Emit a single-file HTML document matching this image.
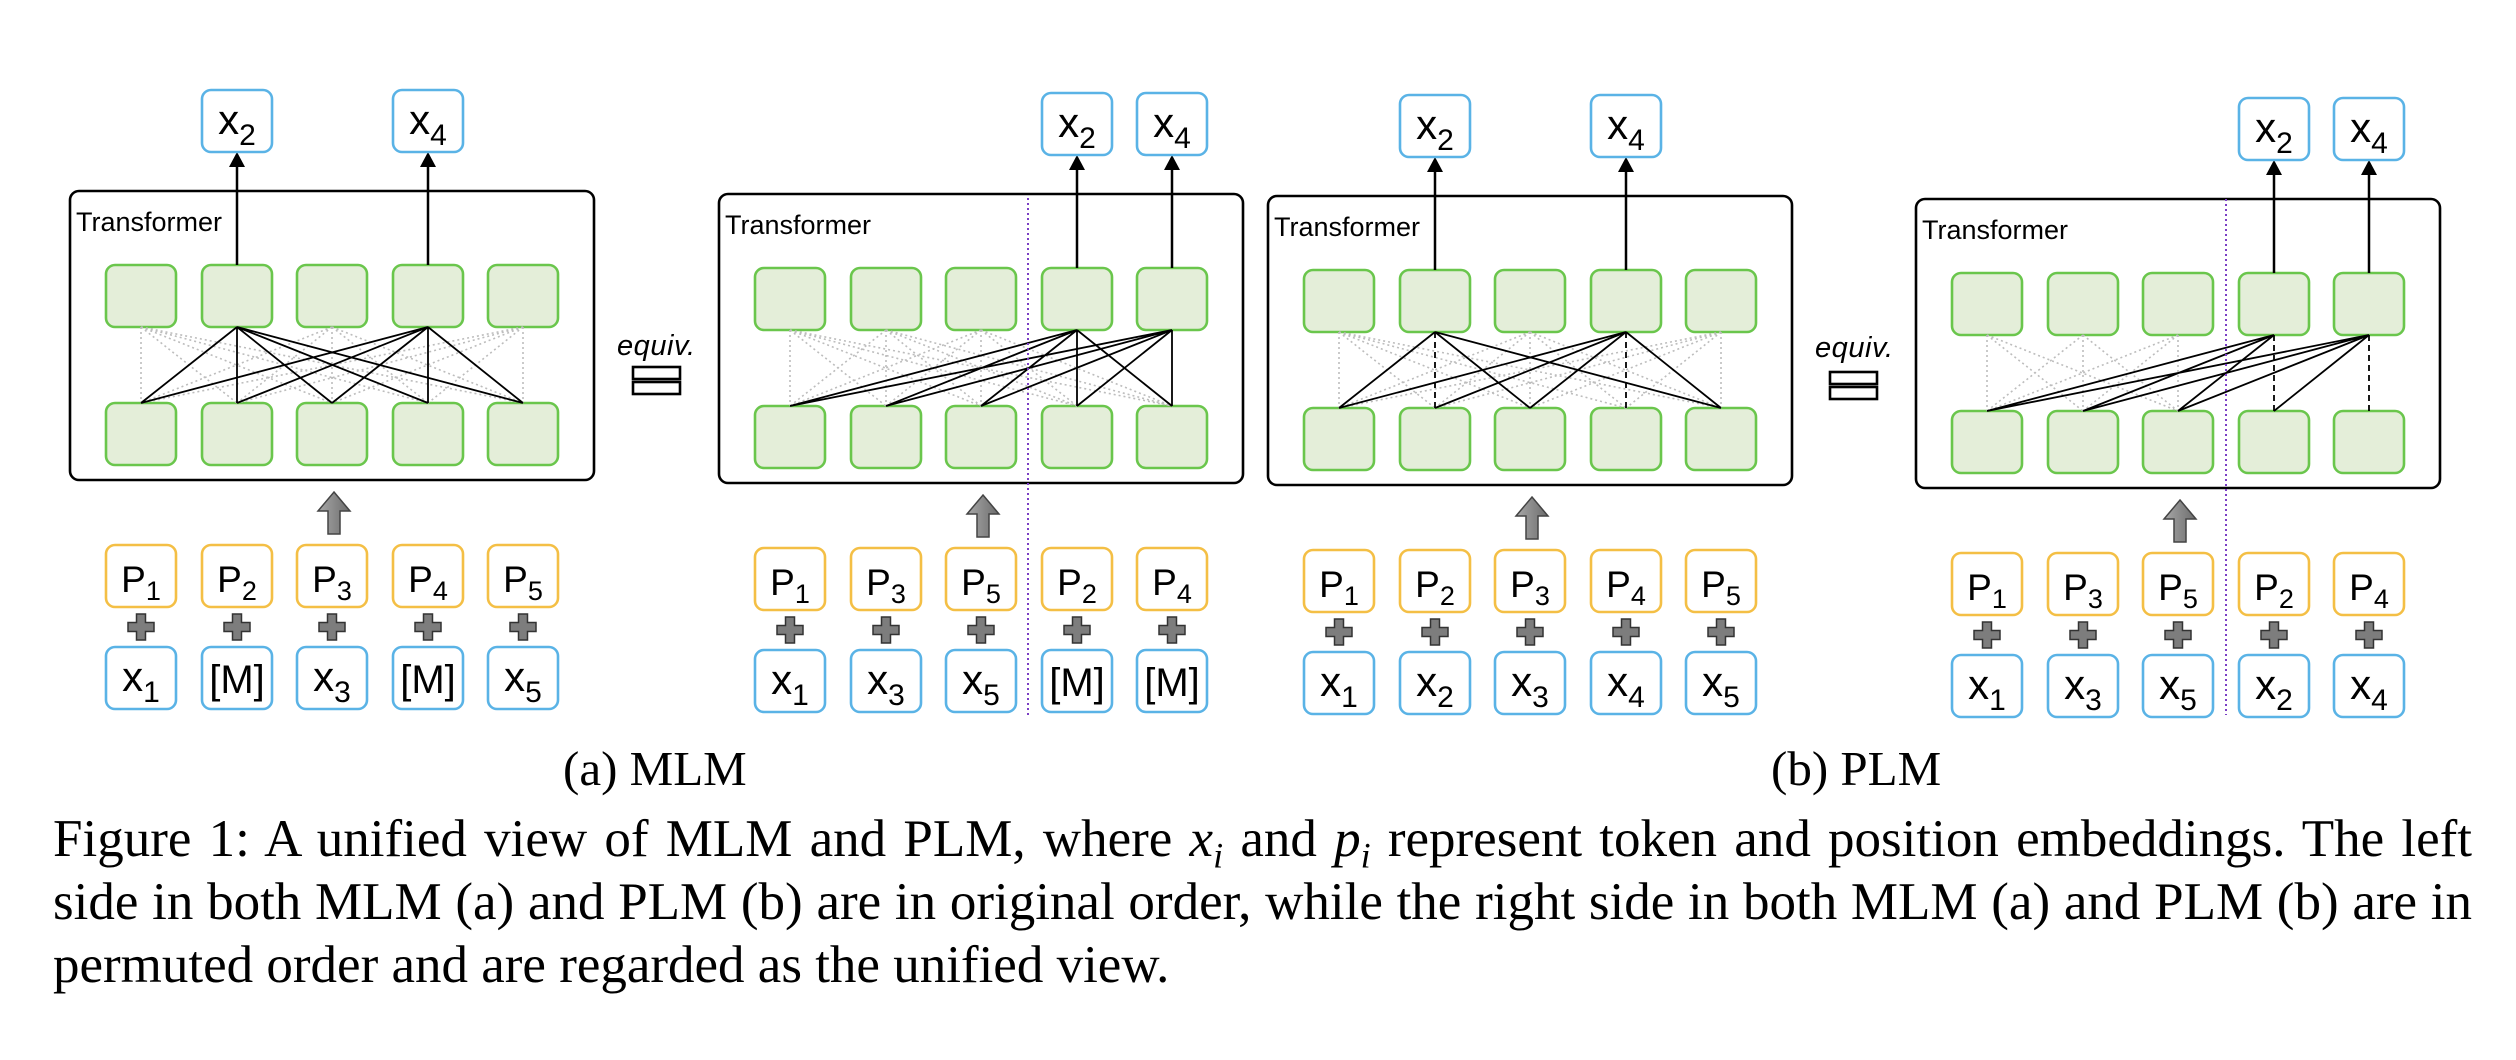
<!DOCTYPE html>
<html><head><meta charset="utf-8">
<style>
html,body{margin:0;padding:0;background:#fff;}
body{width:2516px;height:1060px;position:relative;overflow:hidden;}
svg{position:absolute;left:0;top:0;}
.t{font-family:"Liberation Sans",sans-serif;font-size:42px;fill:#000;text-anchor:middle;}
.s{font-size:30px;}
.p{font-family:"Liberation Sans",sans-serif;font-size:37px;fill:#000;text-anchor:middle;}
.ps{font-size:27px;}
.m{font-family:"Liberation Sans",sans-serif;font-size:40px;fill:#000;text-anchor:middle;}
.tr{font-family:"Liberation Sans",sans-serif;font-size:27px;fill:#000;}
.eq{font-family:"Liberation Sans",sans-serif;font-size:29px;font-style:italic;fill:#000;}
.cap{position:absolute;left:53px;width:2419px;font-family:"Liberation Serif",serif;font-size:53px;line-height:63px;white-space:nowrap;color:#000;}
.j{text-align:justify;text-align-last:justify;}
.sub{font-family:"Liberation Serif",serif;font-size:49px;position:absolute;white-space:nowrap;}
i{font-style:italic;}
</style></head><body>
<svg width="2516" height="1060" viewBox="0 0 2516 1060">
<defs>
<rect id="g" x="-35" y="0" width="70" height="62" rx="9" fill="#e4eed9" stroke="#6ac64c" stroke-width="2.6"/>
<rect id="b" x="-35" y="0" width="70" height="62" rx="9" fill="#fff" stroke="#5ab3e6" stroke-width="2.6"/>
<rect id="o" x="-35" y="0" width="70" height="62" rx="9" fill="#fff" stroke="#f4bf45" stroke-width="2.6"/>
<path id="plus" d="M-4.5,-13h9v8.5h8.5v9h-8.5v8.5h-9v-8.5h-8.5v-9h8.5z" fill="#7d7d7d" stroke="#333" stroke-width="1.5"/>
<linearGradient id="gr" x1="0" x2="1"><stop offset="0" stop-color="#a8a8a8"/><stop offset="1" stop-color="#6c6c6c"/></linearGradient>
<path id="up" d="M0,0 L16,19 L6,19 L6,42 L-6,42 L-6,19 L-16,19Z" fill="url(#gr)" stroke="#444" stroke-width="1.5"/>
<g id="frame">
<rect x="-35" y="101" width="524" height="289" rx="9" fill="#fff" stroke="#000" stroke-width="2.6"/>
<text x="-29" y="141" class="tr">Transformer</text>
<use href="#g" x="36" y="175"/><use href="#g" x="132" y="175"/><use href="#g" x="227" y="175"/><use href="#g" x="323" y="175"/><use href="#g" x="418" y="175"/>
<use href="#g" x="36" y="313"/><use href="#g" x="132" y="313"/><use href="#g" x="227" y="313"/><use href="#g" x="323" y="313"/><use href="#g" x="418" y="313"/>
<use href="#up" x="229" y="402"/>
<use href="#o" x="36" y="455"/><use href="#o" x="132" y="455"/><use href="#o" x="227" y="455"/><use href="#o" x="323" y="455"/><use href="#o" x="418" y="455"/>
<use href="#plus" x="36" y="537"/><use href="#plus" x="132" y="537"/><use href="#plus" x="227" y="537"/><use href="#plus" x="323" y="537"/><use href="#plus" x="418" y="537"/>
<use href="#b" x="36" y="557"/><use href="#b" x="132" y="557"/><use href="#b" x="227" y="557"/><use href="#b" x="323" y="557"/><use href="#b" x="418" y="557"/>
</g>
</defs>

<!-- Panel 1 -->
<g transform="translate(105,90)">
<use href="#frame"/>
<path d="M36 237L36 313M36 237L132 313M36 237L227 313M36 237L323 313M36 237L418 313M227 237L36 313M227 237L132 313M227 237L227 313M227 237L323 313M227 237L418 313M418 237L36 313M418 237L132 313M418 237L227 313M418 237L323 313M418 237L418 313" stroke="#bdbdbd" stroke-width="1.6" stroke-dasharray="2,3" fill="none"/>
<path d="M132 237L36 313M132 237L132 313M132 237L227 313M132 237L323 313M132 237L418 313M323 237L36 313M323 237L132 313M323 237L227 313M323 237L323 313M323 237L418 313" stroke="#000" stroke-width="1.8" fill="none"/>
<path d="M132 175V76M323 175V76" stroke="#000" stroke-width="2.5"/>
<polygon points="124,77 140,77 132,62" fill="#000"/><polygon points="315,77 331,77 323,62" fill="#000"/>
<use href="#b" x="132" y="0"/><use href="#b" x="323" y="0"/>
<text x="132" y="44" class="t">x<tspan class="s" dy="11">2</tspan></text>
<text x="323" y="44" class="t">x<tspan class="s" dy="11">4</tspan></text>
<text x="36" y="502" class="p">P<tspan class="ps" dy="8">1</tspan></text>
<text x="132" y="502" class="p">P<tspan class="ps" dy="8">2</tspan></text>
<text x="227" y="502" class="p">P<tspan class="ps" dy="8">3</tspan></text>
<text x="323" y="502" class="p">P<tspan class="ps" dy="8">4</tspan></text>
<text x="418" y="502" class="p">P<tspan class="ps" dy="8">5</tspan></text>
<text x="36" y="601" class="t">x<tspan class="s" dy="11">1</tspan></text>
<text x="132" y="603" class="m">[M]</text>
<text x="227" y="601" class="t">x<tspan class="s" dy="11">3</tspan></text>
<text x="323" y="603" class="m">[M]</text>
<text x="418" y="601" class="t">x<tspan class="s" dy="11">5</tspan></text>
</g>

<!-- equiv 1 -->
<text x="617" y="355" class="eq" textLength="78">equiv.</text>
<rect x="633" y="367" width="47" height="12" fill="#fff" stroke="#000" stroke-width="2.6"/>
<rect x="633" y="382" width="47" height="12" fill="#fff" stroke="#000" stroke-width="2.6"/>

<!-- Panel 2 -->
<g transform="translate(754,93)">
<use href="#frame"/>
<path d="M36 237L36 313M36 237L132 313M36 237L227 313M36 237L323 313M36 237L418 313M132 237L36 313M132 237L132 313M132 237L227 313M132 237L323 313M132 237L418 313M227 237L36 313M227 237L132 313M227 237L227 313M227 237L323 313M227 237L418 313" stroke="#bdbdbd" stroke-width="1.6" stroke-dasharray="2,3" fill="none"/>
<path d="M323 237L36 313M323 237L132 313M323 237L227 313M323 237L323 313M323 237L418 313M418 237L36 313M418 237L132 313M418 237L227 313M418 237L323 313M418 237L418 313" stroke="#000" stroke-width="1.8" fill="none"/>
<path d="M274 105V622" stroke="#7b3fc4" stroke-width="2" stroke-dasharray="2,3"/>
<path d="M323 175V76M418 175V76" stroke="#000" stroke-width="2.5"/>
<polygon points="315,77 331,77 323,62" fill="#000"/><polygon points="410,77 426,77 418,62" fill="#000"/>
<use href="#b" x="323" y="0"/><use href="#b" x="418" y="0"/>
<text x="323" y="44" class="t">x<tspan class="s" dy="11">2</tspan></text>
<text x="418" y="44" class="t">x<tspan class="s" dy="11">4</tspan></text>
<text x="36" y="502" class="p">P<tspan class="ps" dy="8">1</tspan></text>
<text x="132" y="502" class="p">P<tspan class="ps" dy="8">3</tspan></text>
<text x="227" y="502" class="p">P<tspan class="ps" dy="8">5</tspan></text>
<text x="323" y="502" class="p">P<tspan class="ps" dy="8">2</tspan></text>
<text x="418" y="502" class="p">P<tspan class="ps" dy="8">4</tspan></text>
<text x="36" y="601" class="t">x<tspan class="s" dy="11">1</tspan></text>
<text x="132" y="601" class="t">x<tspan class="s" dy="11">3</tspan></text>
<text x="227" y="601" class="t">x<tspan class="s" dy="11">5</tspan></text>
<text x="323" y="603" class="m">[M]</text>
<text x="418" y="603" class="m">[M]</text>
</g>

<!-- Panel 3 -->
<g transform="translate(1303,95)">
<use href="#frame"/>
<path d="M36 237L36 313M36 237L132 313M36 237L227 313M36 237L323 313M36 237L418 313M227 237L36 313M227 237L132 313M227 237L227 313M227 237L323 313M227 237L418 313M418 237L36 313M418 237L132 313M418 237L227 313M418 237L323 313M418 237L418 313" stroke="#bdbdbd" stroke-width="1.6" stroke-dasharray="2,3" fill="none"/>
<path d="M132 237L36 313M132 237L227 313M132 237L418 313M323 237L36 313M323 237L132 313M323 237L227 313M323 237L418 313" stroke="#000" stroke-width="1.8" fill="none"/>
<path d="M132 237L132 313M323 237L323 313" stroke="#000" stroke-width="1.8" stroke-dasharray="6,4" fill="none"/>
<path d="M132 175V76M323 175V76" stroke="#000" stroke-width="2.5"/>
<polygon points="124,77 140,77 132,62" fill="#000"/><polygon points="315,77 331,77 323,62" fill="#000"/>
<use href="#b" x="132" y="0"/><use href="#b" x="323" y="0"/>
<text x="132" y="44" class="t">x<tspan class="s" dy="11">2</tspan></text>
<text x="323" y="44" class="t">x<tspan class="s" dy="11">4</tspan></text>
<text x="36" y="502" class="p">P<tspan class="ps" dy="8">1</tspan></text>
<text x="132" y="502" class="p">P<tspan class="ps" dy="8">2</tspan></text>
<text x="227" y="502" class="p">P<tspan class="ps" dy="8">3</tspan></text>
<text x="323" y="502" class="p">P<tspan class="ps" dy="8">4</tspan></text>
<text x="418" y="502" class="p">P<tspan class="ps" dy="8">5</tspan></text>
<text x="36" y="601" class="t">x<tspan class="s" dy="11">1</tspan></text>
<text x="132" y="601" class="t">x<tspan class="s" dy="11">2</tspan></text>
<text x="227" y="601" class="t">x<tspan class="s" dy="11">3</tspan></text>
<text x="323" y="601" class="t">x<tspan class="s" dy="11">4</tspan></text>
<text x="418" y="601" class="t">x<tspan class="s" dy="11">5</tspan></text>
</g>

<!-- equiv 2 -->
<text x="1815" y="357" class="eq" textLength="78">equiv.</text>
<rect x="1830" y="372" width="47" height="12" fill="#fff" stroke="#000" stroke-width="2.6"/>
<rect x="1830" y="387" width="47" height="12" fill="#fff" stroke="#000" stroke-width="2.6"/>

<!-- Panel 4 -->
<g transform="translate(1951,98)">
<use href="#frame"/>
<path d="M36 237L36 313M36 237L132 313M36 237L227 313M132 237L36 313M132 237L132 313M132 237L227 313M227 237L36 313M227 237L132 313M227 237L227 313" stroke="#bdbdbd" stroke-width="1.6" stroke-dasharray="2,3" fill="none"/>
<path d="M323 237L36 313M323 237L132 313M323 237L227 313M418 237L36 313M418 237L132 313M418 237L227 313M418 237L323 313" stroke="#000" stroke-width="1.8" fill="none"/>
<path d="M323 237L323 313M418 237L418 313" stroke="#000" stroke-width="1.8" stroke-dasharray="6,4" fill="none"/>
<path d="M275 101V617" stroke="#7b3fc4" stroke-width="2" stroke-dasharray="2,3"/>
<path d="M323 175V76M418 175V76" stroke="#000" stroke-width="2.5"/>
<polygon points="315,77 331,77 323,62" fill="#000"/><polygon points="410,77 426,77 418,62" fill="#000"/>
<use href="#b" x="323" y="0"/><use href="#b" x="418" y="0"/>
<text x="323" y="44" class="t">x<tspan class="s" dy="11">2</tspan></text>
<text x="418" y="44" class="t">x<tspan class="s" dy="11">4</tspan></text>
<text x="36" y="502" class="p">P<tspan class="ps" dy="8">1</tspan></text>
<text x="132" y="502" class="p">P<tspan class="ps" dy="8">3</tspan></text>
<text x="227" y="502" class="p">P<tspan class="ps" dy="8">5</tspan></text>
<text x="323" y="502" class="p">P<tspan class="ps" dy="8">2</tspan></text>
<text x="418" y="502" class="p">P<tspan class="ps" dy="8">4</tspan></text>
<text x="36" y="601" class="t">x<tspan class="s" dy="11">1</tspan></text>
<text x="132" y="601" class="t">x<tspan class="s" dy="11">3</tspan></text>
<text x="227" y="601" class="t">x<tspan class="s" dy="11">5</tspan></text>
<text x="323" y="601" class="t">x<tspan class="s" dy="11">2</tspan></text>
<text x="418" y="601" class="t">x<tspan class="s" dy="11">4</tspan></text>
</g>
</svg>

<div class="sub" style="left:563px;top:740px;">(a) MLM</div>
<div class="sub" style="left:1771px;top:740px;">(b) PLM</div>

<div class="cap j" style="top:808px;">Figure 1: A unified view of MLM and PLM, where <i>x<sub style="font-size:36px">i</sub></i> and <i>p<sub style="font-size:36px">i</sub></i> represent token and position embeddings. The left</div>
<div class="cap j" style="top:871px;">side in both MLM (a) and PLM (b) are in original order, while the right side in both MLM (a) and PLM (b) are in</div>
<div class="cap" style="top:934px;">permuted order and are regarded as the unified view.</div>
</body></html>
